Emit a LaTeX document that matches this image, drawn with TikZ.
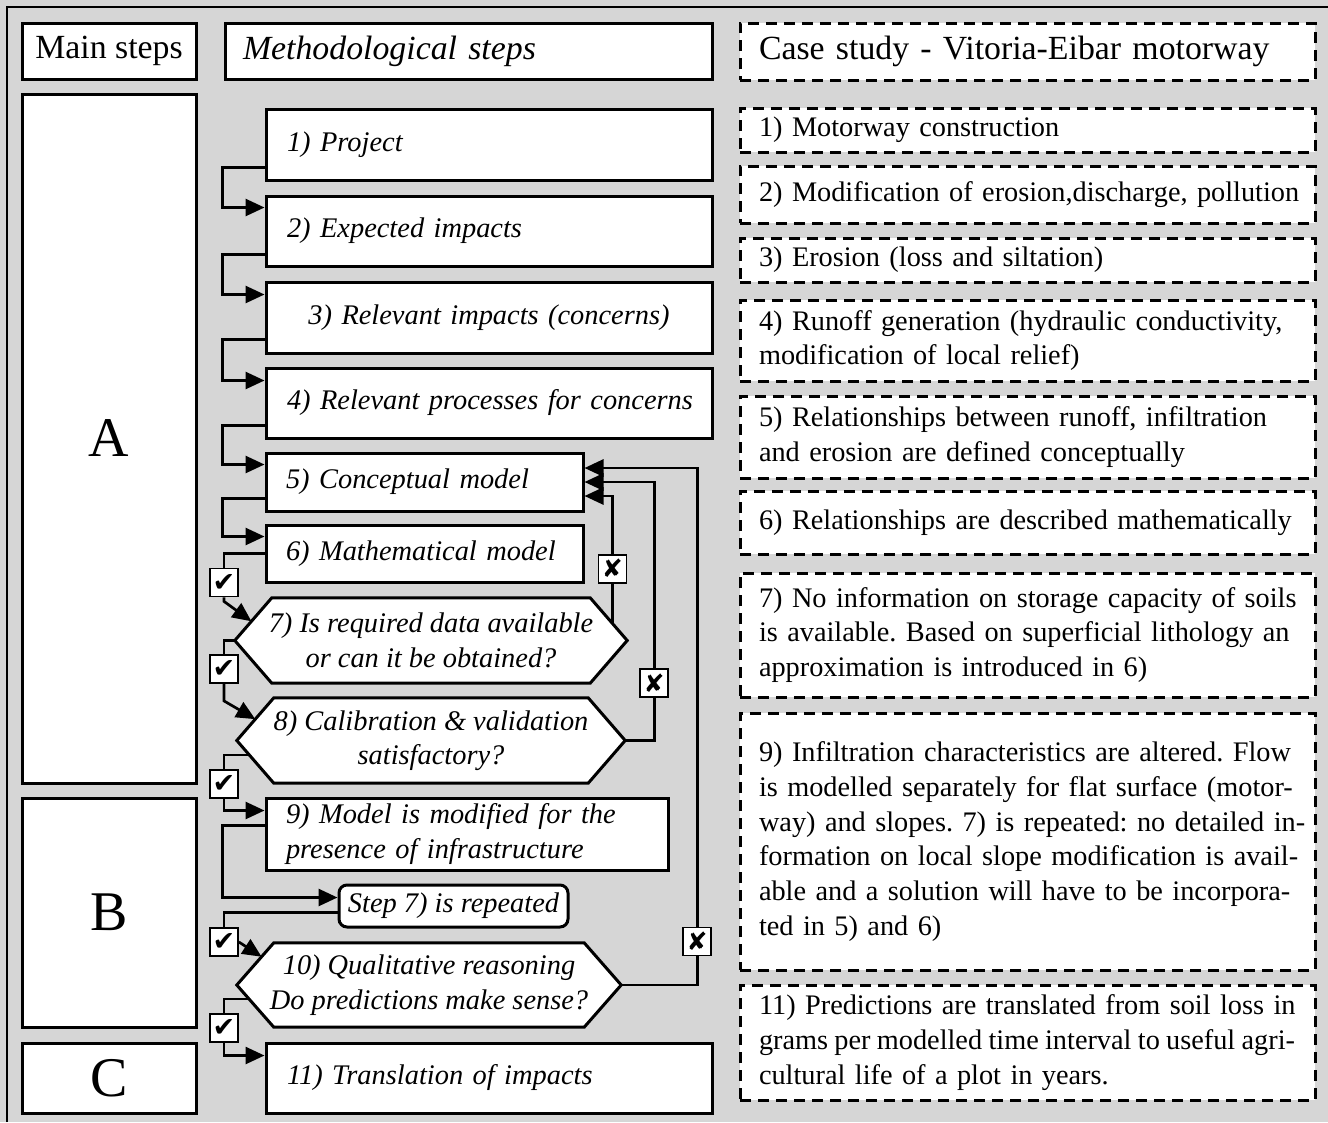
\documentclass[tikz,border=0pt]{standalone}
\usepackage{fontspec}
\setmainfont{Liberation Serif}
\newfontfamily\SymFont{DejaVu Sans}
\usetikzlibrary{arrows.meta,calc}
\pgfdeclarelayer{bglayer}
\pgfdeclarelayer{hexlayer}
\pgfsetlayers{bglayer,hexlayer,main}
\definecolor{bggray}{RGB}{214,214,214}
\newcommand\HdFont{\fontsize{33.8}{40}\selectfont}
\newcommand\RtFont{\fontsize{28.3}{34.8}\selectfont}
\newcommand\MdFont{\fontsize{28.4}{34.5}\selectfont\itshape}
\newcommand\BgFont{\fontsize{56}{60}\selectfont}
\newcommand\HexOf[2]{%
  \coordinate (#1-tl) at ($(#1.north west)+(#2,0)$);
  \coordinate (#1-tr) at ($(#1.north east)+(-#2,0)$);
  \coordinate (#1-bl) at ($(#1.south west)+(#2,0)$);
  \coordinate (#1-br) at ($(#1.south east)+(-#2,0)$);
  \begin{pgfonlayer}{hexlayer}
    \draw[hexline] (#1.west) -- (#1-tl) -- (#1-tr) -- (#1.east) -- (#1-br) -- (#1-bl) -- cycle;
  \end{pgfonlayer}}
\begin{document}
\frenchspacing
\begin{tikzpicture}[x=1pt, y=-1pt,
  conn/.style={line width=2.7pt},
  arr/.style={-{Triangle[length=19pt,width=17pt]}},
  sbox/.style={draw, line width=3pt, fill=white, inner ysep=0pt},
  midbox/.style={sbox, inner xsep=21pt, align=left, font=\MdFont},
  dbox/.style={draw, line width=3pt, dash pattern=on 11pt off 7pt, fill=white,
    inner xsep=19pt, inner ysep=0pt, text width=537pt, align=left, font=\RtFont, minimum width=575pt},
  hexline/.style={draw, line width=3pt, fill=white},
  hexnode/.style={inner sep=0pt, align=center, font=\MdFont},
  ckbox/.style={draw, line width=1.8pt, fill=white, minimum size=28pt, inner sep=0pt,
    font=\SymFont\fontsize{27}{27}\selectfont},
  xbox/.style={ckbox, font=\SymFont\fontsize{25}{25}\selectfont},
]
\useasboundingbox (0,0) rectangle (1328,1122);
\begin{pgfonlayer}{bglayer}
  \fill[bggray] (0,0) rectangle (1328,1122);
  \draw[line width=2.8pt] (7,1122) -- (7,7) -- (1328,7);
\end{pgfonlayer}

% headers
\node[sbox, minimum width=174pt, minimum height=56pt, font=\HdFont] (ms) at (109,51) {Main steps};
\node[sbox, minimum width=487pt, minimum height=56pt, inner xsep=18pt, text width=451pt,
  align=left, font=\HdFont\itshape] (mh) at (468.5,51) {Methodological steps};
\node[dbox, minimum height=57pt, font=\HdFont] (rh) at (1027.5,51.5) {\mbox{Case study - Vitoria-Eibar motorway}};

% main steps
\node[sbox, minimum width=174pt, minimum height=689pt, font=\BgFont] (A) at (109,438.5) {A};
\node[sbox, minimum width=174pt, minimum height=229pt, font=\BgFont] (B) at (109,912.5) {B};
\node[sbox, minimum width=174pt, minimum height=70pt, font=\BgFont] (C) at (109,1078) {C};

% methodological steps
\node[midbox, minimum width=446pt, text width=404pt, minimum height=71pt] (p1) at (489,144.5) {\mbox{1) Project}};
\node[midbox, minimum width=446pt, text width=404pt, minimum height=70pt] (p2) at (489,231) {\mbox{2) Expected impacts}};
\node[midbox, minimum width=446pt, text width=404pt, minimum height=71pt, align=center] (p3) at (489,317.5) {\mbox{3) Relevant impacts (concerns)}};
\node[midbox, minimum width=446pt, text width=404pt, minimum height=70pt] (p4) at (489,403) {\mbox{4) Relevant processes for concerns}};
\node[midbox, minimum width=317pt, inner xsep=20pt, text width=277pt, minimum height=58pt] (p5) at (424.5,482) {\mbox{5) Conceptual model}};
\node[midbox, minimum width=317pt, inner xsep=20pt, text width=277pt, minimum height=57pt] (p6) at (424.5,553.5) {\mbox{6) Mathematical model}};
\node[hexnode, minimum width=392pt, minimum height=85pt] (q7) at (431,640.5) {7) Is required data available\\or can it be obtained?};
\HexOf{q7}{37}
\node[hexnode, minimum width=388pt, minimum height=85pt] (q8) at (431,740.5) {8) Calibration \& validation\\satisfactory?};
\HexOf{q8}{37}
\node[midbox, minimum width=402pt, inner xsep=20pt, text width=362pt, minimum height=72pt] (p9) at (467,834) {\mbox{9) Model is modified for the}\\\mbox{presence of infrastructure}};
\node[sbox, rounded corners=8pt, minimum width=229pt, minimum height=42pt, inner xsep=4pt, font=\MdFont] (s7) at (453.5,906) {Step 7) is repeated};
\node[hexnode, minimum width=384pt, minimum height=84pt] (q10) at (429,985) {10) Qualitative reasoning\\Do predictions make sense?};
\HexOf{q10}{37}
\node[midbox, minimum width=446pt, text width=404pt, minimum height=70pt] (p11) at (489,1078) {\mbox{11) Translation of impacts}};

% check boxes
\node[ckbox] (k1) at (224,582.5) {✔};
\node[ckbox] (k2) at (224,669) {✔};
\node[ckbox] (k3) at (224,784) {✔};
\node[ckbox] (k4) at (224,942) {✔};
\node[ckbox] (k5) at (224,1028) {✔};

% case study
\node[dbox, minimum height=44pt] (r1) at (1027.5,130) {\mbox{1) Motorway construction}};
\node[dbox, minimum height=57pt] (r2) at (1027.5,194.5) {\mbox{2) Modification of erosion,discharge, pollution}};
\node[dbox, minimum height=44pt] (r3) at (1027.5,260) {\mbox{3) Erosion (loss and siltation)}};
\node[dbox, minimum height=81pt] (r4) at (1027.5,340.5) {\mbox{4) Runoff generation (hydraulic conductivity,}\\\mbox{modification of local relief)}};
\node[dbox, minimum height=82pt] (r5) at (1027.5,437) {\mbox{5) Relationships between runoff, infiltration}\\\mbox{and erosion are defined conceptually}};
\node[dbox, minimum height=63pt] (r6) at (1027.5,522.5) {\mbox{6) Relationships are described mathematically}};
\node[dbox, minimum height=124pt] (r7) at (1027.5,635) {\mbox{7) No information on storage capacity of soils}\\\mbox{is available. Based on superficial lithology an}\\\mbox{approximation is introduced in 6)}};
\node[dbox, minimum height=257pt] (r9) at (1027.5,841.5) {\makebox[532pt][s]{9) Infiltration characteristics are altered. Flow}\\\makebox[532pt][s]{is modelled separately for flat surface (motor-}\\\makebox[532pt][s]{way) and slopes. 7) is repeated: no detailed in-}\\\makebox[532pt][s]{formation on local slope modification is avail-}\\\makebox[532pt][s]{able and a solution will have to be incorpora-}\\\mbox{ted in 5) and 6)}};
\node[dbox, minimum height=115pt] (r11) at (1027.5,1042.5) {\mbox{11) Predictions are translated from soil loss in}\\\makebox[536pt][s]{\spaceskip=0.17em plus 1em minus 0.02em grams per modelled time interval to useful agri-}\\\mbox{cultural life of a plot in years.}};

% main flow connectors
\draw[conn,arr] ($(p1.south west)+(0,-14)$) -- ++(-42,0) |- ($(p2.north west)+(0,13)$);
\draw[conn,arr] ($(p2.south west)+(0,-13)$) -- ++(-42,0) |- ($(p3.north west)+(0,14)$);
\draw[conn,arr] ($(p3.south west)+(0,-15)$) -- ++(-42,0) |- ($(p4.north west)+(0,14)$);
\draw[conn,arr] ($(p4.south west)+(0,-14)$) -- ++(-42,0) |- ($(p5.north west)+(0,13)$);
\draw[conn,arr] ($(p5.south west)+(0,-14)$) -- ++(-42,0) |- ($(p6.north west)+(0,13)$);
\draw[conn] (p6.west) -| (k1.north);
\draw[conn,arr] (k1.south) -- ++(0,4) -- ($(q7.west)!0.45!(q7-tl)$);
\draw[conn] (q7.west) -| (k2.north);
\draw[conn,arr] (k2.south) -- ++(0,17) -- ($(q8.west)!0.5!(q8-tl)$);
\draw[conn] ($(q8.west)!0.34!(q8-bl)$) -| (k3.north);
\draw[conn,arr] (k3.south) |- ($(p9.north west)+(0,14)$);
\draw[conn,arr] ($(p9.north west)+(0,29)$) -- ++(-42,0) |- ($(s7.north west)+(0,14)$);
\draw[conn] ($(s7.north west)+(0,29)$) -| (k4.north);
\draw[conn,arr] (k4.east) -- ($(q10.west)!0.67!(q10-tl)$);
\draw[conn] ($(q10.west)!0.33!(q10-bl)$) -| (k5.north);
\draw[conn,arr] (k5.south) |- ($(p11.north west)+(0,14)$);

% feedback connectors
\draw[conn,arr] ($(q7-tr)!0.6!(q7.east)$) |- node[xbox,pos=0.215]{✘} ($(p5.east)+(0,14)$);
\draw[conn,arr] (q8.east) -- ++(29,0) |- node[xbox,pos=0.111]{✘} (p5.east);
\draw[conn,arr] (q10.east) -- ++(76,0) |- node[xbox,pos=0.042]{✘} ($(p5.east)+(0,-14)$);
\end{tikzpicture}
\end{document}
